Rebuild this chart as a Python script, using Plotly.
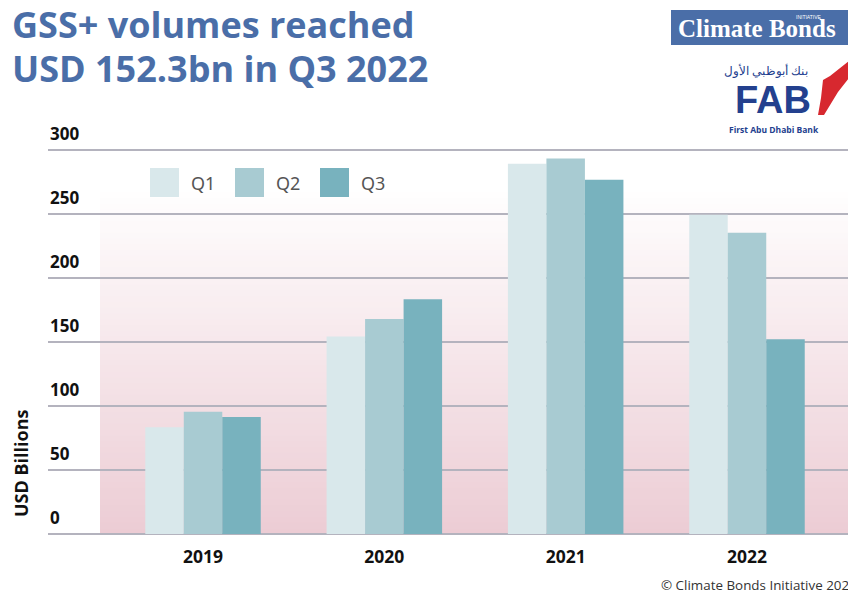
import plotly.graph_objects as go

# ---- data -------------------------------------------------------------
years = ["2019", "2020", "2021", "2022"]
quarters = ["Q1", "Q2", "Q3"]
q1_values = [83.5, 154.5, 289.5, 249.5]
q2_values = [95.5, 168.0, 293.5, 235.5]
q3_values = [91.5, 183.5, 277.0, 152.3]
y_ticks = [0, 50, 100, 150, 200, 250, 300]

colors = ["#d9e8eb", "#a8cbd2", "#78b2be"]
title_blue = "#4a6ea8"
navy = "#23408e"
grid_col = "#b4b3be"

W, H = 848, 594
L, R, T, B = 48, 0, 149, 60
PW, PH = W - L - R, H - T - B


def px(xp):
    return (xp - L) / PW


def py(yp):
    return (H - B - yp) / PH


xpos = list(range(len(years)))
unit = 181.3
x_range = [-(203 - L) / unit, 3 + (W - 747) / unit]

fig = go.Figure()
for name, vals, col in zip(quarters, [q1_values, q2_values, q3_values], colors):
    fig.add_trace(go.Bar(x=xpos, y=vals, name=name, marker_color=col,
                         marker_line_width=0, showlegend=False))

shapes = []
# soft pink backdrop fading to white towards the top
n_bands = 60
top_val = 272
pink = (236, 204, 212)
for i in range(n_bands):
    y0 = top_val * i / n_bands
    y1 = top_val * (i + 1) / n_bands + 1.0
    t = (i + 0.5) / n_bands
    c = tuple(int(round(p + (255 - p) * t)) for p in pink)
    shapes.append(dict(type="rect", xref="paper", yref="y", x0=px(100), x1=1,
                       y0=y0, y1=min(y1, top_val), fillcolor="rgb(%d,%d,%d)" % c,
                       line_width=0, layer="below"))

# legend swatches
sw_x = [150, 235, 320]
for xs, col in zip(sw_x, colors):
    shapes.append(dict(type="rect", xref="paper", yref="paper",
                       x0=px(xs), x1=px(xs + 29), y0=py(197), y1=py(168),
                       fillcolor=col, line_width=0))

# Climate Bonds badge
shapes.append(dict(type="rect", xref="paper", yref="paper",
                   x0=px(671), x1=px(850), y0=py(45), y1=py(10),
                   fillcolor=title_blue, line_width=0))

# FAB swoosh
sw = [(818, 115), (821, 98), (823, 80), (830, 76), (849, 61), (849, 78),
      (838, 92), (824, 115)]
path = "M " + " L ".join("%f,%f" % (px(a), py(b)) for a, b in sw) + " Z"
shapes.append(dict(type="path", xref="paper", yref="paper", path=path,
                   fillcolor="#d7282f", line_width=0))

font_main = "Open Sans"


def note(text, x, y, size, color, family=font_main, xanchor="center",
         yanchor="middle", **kw):
    return dict(text=text, xref="paper", yref="paper", x=px(x), y=py(y),
                xanchor=xanchor, yanchor=yanchor, showarrow=False,
                font=dict(family=family, size=size, color=color), **kw)


annotations = [
    note("<b>GSS+ volumes reached</b>", 10, 25, 36, title_blue, xanchor="left"),
    note("<b>USD 152.3bn in Q3 2022</b>", 10, 68, 36, title_blue, xanchor="left"),
    note("<b>USD Billions</b>", 21, 463, 18, "#111", textangle=-90),
    note("© Climate Bonds Initiative 2022", 659, 585, 13.4, "#333",
         xanchor="left"),
    note("<b>Climate Bonds</b>", 757, 29, 25, "white", family="Liberation Serif"),
    note("INITIATIVE", 809, 17, 5, "white", family="Liberation Sans"),
    note("بنك أبوظبي الأول", 766, 71, 12, navy, family="Noto Sans"),
    note("<b>FAB</b>", 773, 100, 38, navy, family="Liberation Sans"),
    note("<b>First Abu Dhabi Bank</b>", 774, 129, 8.5, navy),
]
for xs, q in zip(sw_x, quarters):
    annotations.append(note(q, xs + 39, 183, 18, "#555", family="Noto Sans",
                            xanchor="left"))

# y tick labels sit just above their gridlines at the left edge
for v in y_ticks:
    annotations.append(dict(text="<b>%d</b>" % v, xref="paper", yref="y",
                            x=0, y=v, xanchor="left", yanchor="middle",
                            yshift=17, showarrow=False,
                            font=dict(family=font_main, size=17, color="#111")))

fig.update_layout(
    width=W, height=H,
    margin=dict(l=L, r=R, t=T, b=B),
    paper_bgcolor="white", plot_bgcolor="rgba(0,0,0,0)",
    barmode="group", bargap=0.363, bargroupgap=0,
    shapes=shapes, annotations=annotations,
    showlegend=False,
    xaxis=dict(range=x_range, tickvals=xpos,
               ticktext=["<b>%s</b>" % y for y in years],
               showgrid=False, zeroline=False, showline=False, ticks="",
               ticklabelstandoff=10,
               tickfont=dict(family=font_main, size=17.5, color="#111"),
               fixedrange=True),
    yaxis=dict(range=[0, 301], tickvals=y_ticks, showticklabels=False,
               showgrid=True, gridcolor=grid_col, gridwidth=1.5,
               zeroline=True, zerolinecolor=grid_col, zerolinewidth=1.5,
               showline=False, ticks="", fixedrange=True),
)

fig.write_html("out.html")
